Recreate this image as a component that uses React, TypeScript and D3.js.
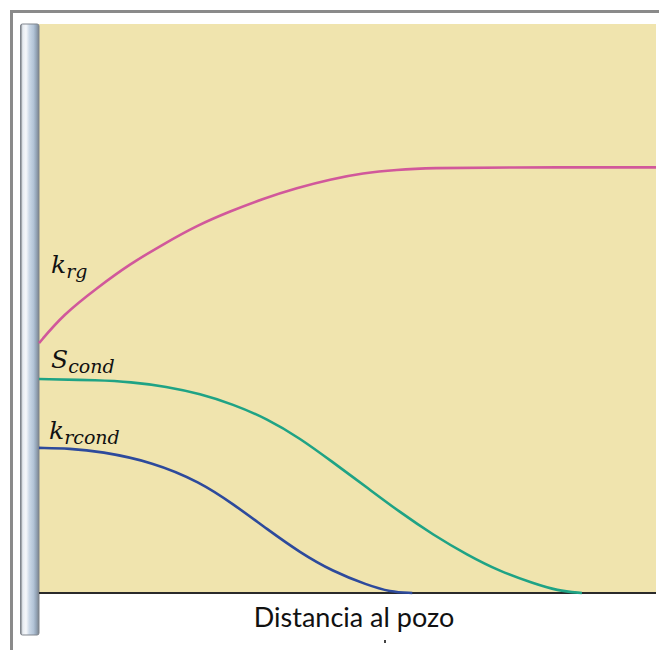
import React, { useEffect, useRef } from 'react';
import * as d3 from 'd3';

// distance to the well (0-100) and normalised value (0-1)
const krgDist = [0, 3.9, 9.4, 14.7, 20.3, 25.6, 31.0, 36.3, 41.8, 47.2, 52.5, 58.0, 63.4, 74.7, 100];
const krgVal = [0.439, 0.489, 0.536, 0.578, 0.614, 0.646, 0.671, 0.693, 0.712, 0.727, 0.738, 0.744, 0.747, 0.748, 0.748];

const scondDist = [0, 9.9, 14.7, 20.7, 26.1, 31.4, 37.0, 42.3, 47.6, 53.2, 58.5, 63.9, 69.4, 74.7, 80.1, 84.0, 88.0];
const scondVal = [0.376, 0.374, 0.371, 0.363, 0.35, 0.332, 0.306, 0.272, 0.23, 0.185, 0.142, 0.102, 0.067, 0.038, 0.017, 0.004, 0];

const krcondDist = [0, 5.0, 9.9, 18.5, 26.1, 31.4, 37.0, 42.3, 47.6, 53.2, 56.9, 60.5];
const krcondVal = [0.255, 0.254, 0.249, 0.23, 0.195, 0.157, 0.112, 0.071, 0.038, 0.014, 0.002, 0];

const seriesNames = ['krg', 'Scond', 'krcond'];
const seriesColors = ['#d1589b', '#1fa385', '#2d4a9c'];
const labelMain = ['k', 'S', 'k'];
const labelSub = ['rg', 'cond', 'rcond'];
const xTitle = 'Distancia al pozo';

export default function App() {
  const ref = useRef<SVGSVGElement>(null);

  useEffect(() => {
    const width = 659;
    const height = 650;
    const svg = d3.select(ref.current);
    svg.selectAll('*').remove();
    svg.attr('width', width).attr('height', height);

    const x = d3.scaleLinear().domain([0, 100]).range([39, 656]);
    const y = d3.scaleLinear().domain([0, 1]).range([593, 24]);

    const defs = svg.append('defs');
    const grad = defs
      .append('linearGradient')
      .attr('id', 'pipe')
      .attr('x1', '0%')
      .attr('x2', '100%');
    [
      [0, '#6d7277'],
      [0.12, '#e6ebf1'],
      [0.3, '#f6f8fb'],
      [0.48, '#cbd8e7'],
      [0.7, '#b3c4d7'],
      [0.84, '#97a8bb'],
      [1, '#7b828b'],
    ].forEach(([o, c]) => grad.append('stop').attr('offset', o as number).attr('stop-color', c as string));

    // outer frame
    svg.append('line').attr('x1', 10).attr('x2', 659).attr('y1', 11.5).attr('y2', 11.5)
      .attr('stroke', '#8a8a8a').attr('stroke-width', 3);
    svg.append('line').attr('x1', 11.5).attr('x2', 11.5).attr('y1', 10).attr('y2', 650)
      .attr('stroke', '#8a8a8a').attr('stroke-width', 3);

    // reservoir background
    svg.append('rect')
      .attr('x', x(0)).attr('y', y(1))
      .attr('width', x(100) - x(0)).attr('height', y(0) - y(1))
      .attr('fill', '#f0e4ae');

    // well
    svg.append('rect')
      .attr('x', 20.5).attr('y', 24).attr('width', 18.5).attr('height', 611)
      .attr('rx', 2)
      .attr('fill', 'url(#pipe)')
      .attr('stroke', '#80868e').attr('stroke-width', 1);

    // baseline
    svg.append('line')
      .attr('x1', x(0)).attr('x2', x(100))
      .attr('y1', y(0)).attr('y2', y(0))
      .attr('stroke', '#2a2a2a').attr('stroke-width', 2);

    // b-spline smooths out the small reading errors in the points
    const line = d3
      .line<[number, number]>()
      .x((d) => x(d[0]))
      .y((d) => y(d[1]))
      .curve(d3.curveBasis);

    const series = [
      d3.zip(krgDist, krgVal),
      d3.zip(scondDist, scondVal),
      d3.zip(krcondDist, krcondVal),
    ] as [number, number][][];

    svg.selectAll('path.curve')
      .data(series)
      .enter()
      .append('path')
      .attr('class', (_, i) => `curve ${seriesNames[i]}`)
      .attr('d', (d) => line(d))
      .attr('fill', 'none')
      .attr('stroke', (_, i) => seriesColors[i])
      .attr('stroke-width', 2.6);

    // labels
    const labelPos = [
      [51, 273],
      [51, 368],
      [49, 439],
    ];
    labelPos.forEach(([lx, ly], i) => {
      const t = svg.append('text')
        .attr('x', lx).attr('y', ly)
        .attr('font-family', '"DejaVu Serif", "Liberation Serif", serif')
        .attr('font-style', 'italic')
        .attr('font-size', 25)
        .attr('fill', '#111');
      t.append('tspan').text(labelMain[i]);
      t.append('tspan').attr('dy', 5).attr('font-size', 19).text(labelSub[i]);
    });

    svg.append('text')
      .attr('x', 354).attr('y', 627)
      .attr('text-anchor', 'middle')
      .attr('font-family', 'Lato, "Open Sans", sans-serif')
      .attr('font-size', 27)
      .attr('fill', '#111')
      .text(xTitle);

    svg.append('rect').attr('x', 384).attr('y', 640).attr('width', 2).attr('height', 3).attr('fill', '#444');
  }, []);

  return <svg ref={ref} style={{ position: 'absolute', left: 0, top: 0 }} />;
}
